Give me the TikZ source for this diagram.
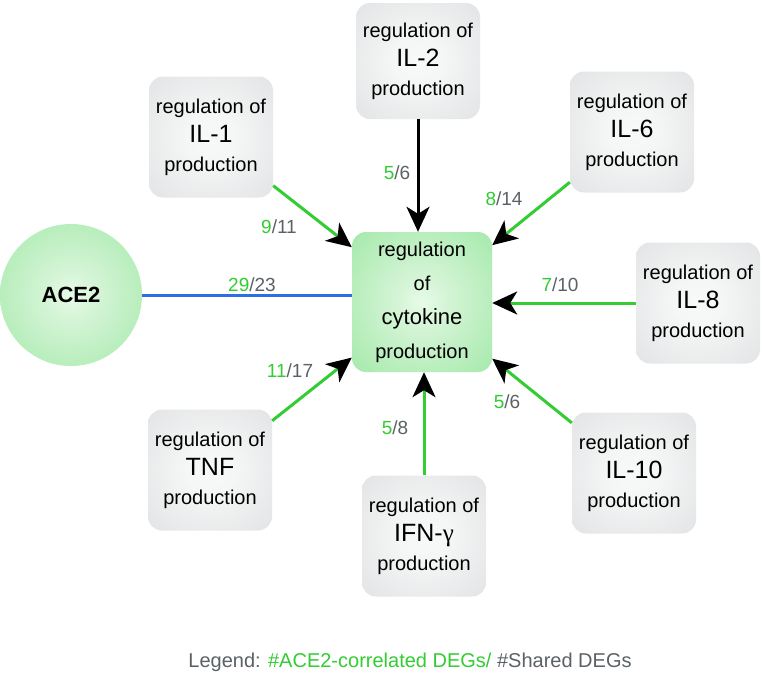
\documentclass[tikz,border=0pt]{standalone}
\usepackage{fontspec}
\setmainfont{Liberation Sans}
\newfontfamily\greekserif{Liberation Serif}
\usetikzlibrary{arrows.meta,calc}
\definecolor{dgreen}{RGB}{51,204,51}
\definecolor{numgrey}{RGB}{90,98,102}
\definecolor{lineblue}{RGB}{45,110,230}
\pgfdeclareradialshading{greyshade}{\pgfpoint{0bp}{0bp}}{rgb(0bp)=(0.97,0.975,0.975); rgb(10bp)=(0.96,0.965,0.965); rgb(42bp)=(0.865,0.875,0.88); rgb(50bp)=(0.86,0.87,0.875)}
\pgfdeclareradialshading{greenshade}{\pgfpoint{0bp}{0bp}}{rgb(0bp)=(0.91,0.985,0.91); rgb(8bp)=(0.84,0.96,0.845); rgb(38bp)=(0.63,0.91,0.655); rgb(50bp)=(0.62,0.905,0.645)}
\tikzset{
  gbox/.style={rectangle, rounded corners=14pt, shading=greyshade, minimum width=124pt, minimum height=121pt, inner sep=0pt, align=center, text=black, font=\fontsize{20}{29}\selectfont},
  cbox/.style={rectangle, rounded corners=14pt, shading=greenshade, minimum width=140pt, minimum height=140pt, inner sep=0pt, align=center, text=black, font=\fontsize{20}{34}\selectfont},
  acenode/.style={circle, shading=greenshade, minimum size=142pt, inner sep=0pt, font=\fontsize{22}{26}\selectfont\bfseries},
  garrow/.style={draw=dgreen, line width=3pt, -{Stealth[length=25pt,width=23pt,inset=7pt,black]}},
  karrow/.style={draw=black, line width=3pt, -{Stealth[length=25pt,width=23pt,inset=7pt,black]}},
  bline/.style={draw=lineblue, line width=3pt},
  numlab/.style={font=\fontsize{19}{22}\selectfont, inner sep=0pt}
}
\newcommand{\gr}[1]{\textcolor{dgreen}{#1}}
\newcommand{\gy}[1]{\textcolor{numgrey}{#1}}
\newcommand{\midlbl}[1]{{\fontsize{25}{29}\selectfont #1}}
\begin{document}
\begin{tikzpicture}[x=1pt,y=-1pt]
\useasboundingbox[fill=white] (0,0) rectangle (762,673);
\node[acenode] (ace) at (71,295) {ACE2};
\node[cbox] (c) at (422,302) {regulation\\of\\{\fontsize{22}{34}\selectfont cytokine}\\production};
\node[gbox] (il1) at (211,137) {regulation of\\\midlbl{IL-1}\\production};
\node[gbox, minimum height=116pt] (il2) at (418,61) {regulation of\\\midlbl{IL-2}\\production};
\node[gbox] (il6) at (632,132) {regulation of\\\midlbl{IL-6}\\production};
\node[gbox] (il8) at (698,303) {regulation of\\\midlbl{IL-8}\\production};
\node[gbox] (il10) at (634,473) {regulation of\\\midlbl{IL-10}\\production};
\node[gbox] (tnf) at (210,470) {regulation of\\\midlbl{TNF}\\production};
\node[gbox] (ifn) at (424,536) {regulation of\\\midlbl{IFN-{\greekserif γ}}\\production};

\draw[bline] (ace.east) -- (ace.east -| c.west);
\draw[garrow] (il1) -- (c);
\draw[karrow] (il2.south) -- (il2.south |- c.north);
\draw[garrow] (il6) -- (c);
\draw[garrow] (il8.west) -- (il8.west -| c.east);
\draw[garrow] (il10) -- (c);
\draw[garrow] (ifn.north) -- (ifn.north |- c.south);
\draw[garrow] (tnf) -- (c);

\node[numlab] (l0) at (252,285) {\gr{29}\gy{/23}};
\node[numlab] (l1) at (279,227) {\gr{9}\gy{/11}};
\node[numlab] (l2) at (397,173) {\gr{5}\gy{/6}};
\node[numlab] (l6) at (504,199) {\gr{8}\gy{/14}};
\node[numlab] (l8) at (560,285) {\gr{7}\gy{/10}};
\node[numlab] (l10) at (507,402) {\gr{5}\gy{/6}};
\node[numlab] (lifn) at (395,428) {\gr{5}\gy{/8}};
\node[numlab] (ltnf) at (290,371) {\gr{11}\gy{/17}};

\node[font=\fontsize{20}{24}\selectfont, inner sep=0pt] (legend) at (410,662) {\gy{Legend:} \gr{\#ACE2-correlated DEGs/} \gy{\#Shared DEGs}};
\end{tikzpicture}
\end{document}
